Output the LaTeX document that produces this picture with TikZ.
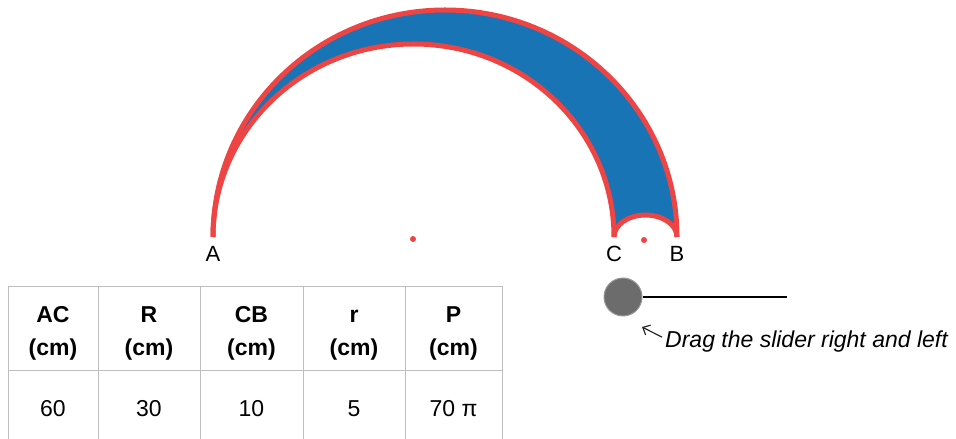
\documentclass[tikz,border=0pt]{standalone}
\usepackage{fontspec}
\setmainfont{Liberation Sans}
\usetikzlibrary{positioning,arrows.meta}
\definecolor{arcred}{RGB}{239,68,68}
\definecolor{ringblue}{RGB}{24,116,180}
\definecolor{gridgray}{RGB}{190,190,190}
\definecolor{knobgray}{RGB}{108,108,108}

\begin{document}
\begin{tikzpicture}[x=1pt, y=1pt,
  rim/.style={draw=arcred, line width=5pt},
  centre/.style={circle, fill=arcred, inner sep=0pt, minimum size=6pt},
  lbl/.style={font=\fontsize{22}{24}\selectfont},
  grid/.style={draw=gridgray, line width=1pt},
  head/.style={align=center, font=\fontsize{23}{33}\selectfont\bfseries},
  val/.style={font=\fontsize{23}{26}\selectfont},
  hint/.style={-{Straight Barb[length=6pt, width=11pt]}, line width=1.2pt, black!85}
]
\useasboundingbox (0,0) rectangle (956,439);
\coordinate (A) at (213,202);
\coordinate (C) at (614,202);
\coordinate (B) at (677,202);
\fill[ringblue] (A) arc[start angle=180, end angle=0, x radius=232, y radius=227]
  arc[start angle=0, end angle=180, x radius=31.5, y radius=22]
  arc[start angle=0, end angle=180, x radius=200.5, y radius=193] -- cycle;
\draw[rim] (A) arc[start angle=180, end angle=0, x radius=232, y radius=227];
\draw[rim] (A) arc[start angle=180, end angle=0, x radius=200.5, y radius=193];
\draw[rim] (C) arc[start angle=180, end angle=0, x radius=31.5, y radius=22];
\node[centre] (oAC) at (413,200) {};
\node[centre] (oCB) at (644,199) {};
\node[lbl, below=6pt of A] (lA) {A};
\node[lbl, below=6pt of C] (lC) {C};
\node[lbl, below=6pt of B] (lB) {B};

\draw[grid] (8,0) -- (8,152) -- (502,152) -- (502,0);
\draw[grid] (8,68) -- (502,68);
\draw[grid] (98,0) -- (98,152);
\draw[grid] (200,0) -- (200,152);
\draw[grid] (303,0) -- (303,152);
\draw[grid] (405,0) -- (405,152);
\node[head] (hAC) at (53,106) {AC\\(cm)};
\node[head] (hR) at (149,106) {R\\(cm)};
\node[head] (hCB) at (251.5,106) {CB\\(cm)};
\node[head] (hr) at (354,106) {\vphantom{A}r\\(cm)};
\node[head] (hP) at (453.5,106) {P\\(cm)};
\node[val] (vAC) at (53,30) {60};
\node[val] (vR) at (149,30) {30};
\node[val] (vCB) at (251.5,30) {10};
\node[val] (vr) at (354,30) {5};
\node[val] (vP) at (453.5,30) {70 π};

\node[circle, fill=knobgray, draw=knobgray!70, line width=1pt,
      minimum size=38pt, inner sep=0pt] (knob) at (623,142) {};
\coordinate (track) at (787,142);
\draw[line width=2pt] (knob) -- (track);
\node[font=\fontsize{23}{26}\selectfont\itshape, anchor=base west,
      inner sep=0pt] (drag) at (665,91) {Drag the slider right and left};
\coordinate (tip) at (642,112);
\draw[hint] ([shift={(-3pt,-6pt)}]drag.north west) -- (tip);
\end{tikzpicture}
\end{document}
